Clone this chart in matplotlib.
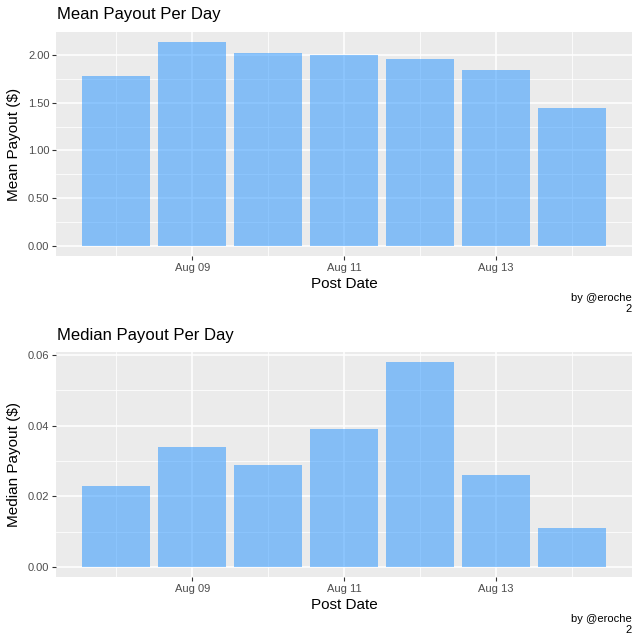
import numpy as np
import matplotlib
matplotlib.use("Agg")
import matplotlib.pyplot as plt
import matplotlib.dates as mdates

plt.rcParams["font.family"] = ["Liberation Sans", "DejaVu Sans"]

# daily payout summary
dates = np.arange(np.datetime64("2016-08-08"), np.datetime64("2016-08-15"))
mean_payout = [1.78, 2.135, 2.02, 2.0, 1.96, 1.845, 1.445]
median_payout = [0.023, 0.034, 0.029, 0.039, 0.058, 0.026, 0.011]
mean_ticks = [0.0, 0.5, 1.0, 1.5, 2.0]
median_ticks = [0.0, 0.02, 0.04, 0.06]
date_ticks = np.array(["2016-08-09", "2016-08-11", "2016-08-13"], dtype="datetime64[D]")

W, H = 640, 641
fig = plt.figure(figsize=(W / 100, H / 100), dpi=100)

bg = "#EBEBEB"
bar_col = "dodgerblue"


def panel(top_px, bottom_px, values, yticks, fmt, title, ylabel):
    ax = fig.add_axes([56 / W, 1 - bottom_px / H, 576 / W, (bottom_px - top_px) / H])
    ax.set_facecolor(bg)
    x = mdates.date2num(dates)
    ax.bar(x, values, width=0.9, color=bar_col, alpha=0.5, zorder=3, linewidth=0)

    # ggplot-like expansion
    lo, hi = x[0] - 0.45, x[-1] + 0.45
    pad = 0.05 * (hi - lo)
    ax.set_xlim(lo - pad, hi + pad)
    vmax = max(values)
    ax.set_ylim(-0.05 * vmax, 1.05 * vmax)

    xt = mdates.date2num(date_ticks)
    ax.set_xticks(xt)
    ax.set_xticklabels([d.item().strftime("%b %d") for d in date_ticks])
    ax.set_xticks(np.append(xt - 1, xt[-1] + 1), minor=True)
    ax.set_yticks(yticks)
    ax.set_yticklabels([fmt.format(v) for v in yticks])
    ax.set_yticks(np.array(yticks[:-1]) + (yticks[1] - yticks[0]) / 2, minor=True)

    ax.grid(which="major", color="white", linewidth=1.1, zorder=1)
    ax.grid(which="minor", color="white", linewidth=0.55, zorder=1)
    ax.set_axisbelow(True)
    for s in ax.spines.values():
        s.set_visible(False)
    ax.tick_params(which="major", length=2.7, width=0.8, color="#333333",
                   labelcolor="#4D4D4D", labelsize=8, pad=2)
    ax.tick_params(which="minor", length=0)

    fig.text(57 / W, 1 - (top_px - 17) / H, title, fontsize=12, va="center", ha="left")
    fig.text(14 / W, 1 - (top_px + bottom_px) / 2 / H, ylabel, fontsize=11,
             rotation=90, va="center", ha="center")
    fig.text(344 / W, 1 - (bottom_px + 28) / H, "Post Date", fontsize=11,
             va="center", ha="center")
    fig.text(632 / W, 1 - (bottom_px + 37) / H, "by @eroche\n2", fontsize=8,
             va="top", ha="right", multialignment="right", linespacing=1.1)
    return ax


panel(32, 256, mean_payout, mean_ticks, "{:.2f}", "Mean Payout Per Day", "Mean Payout ($)")
panel(352, 577, median_payout, median_ticks, "{:.2f}", "Median Payout Per Day", "Median Payout ($)")

fig.savefig("out.png", dpi=100)
